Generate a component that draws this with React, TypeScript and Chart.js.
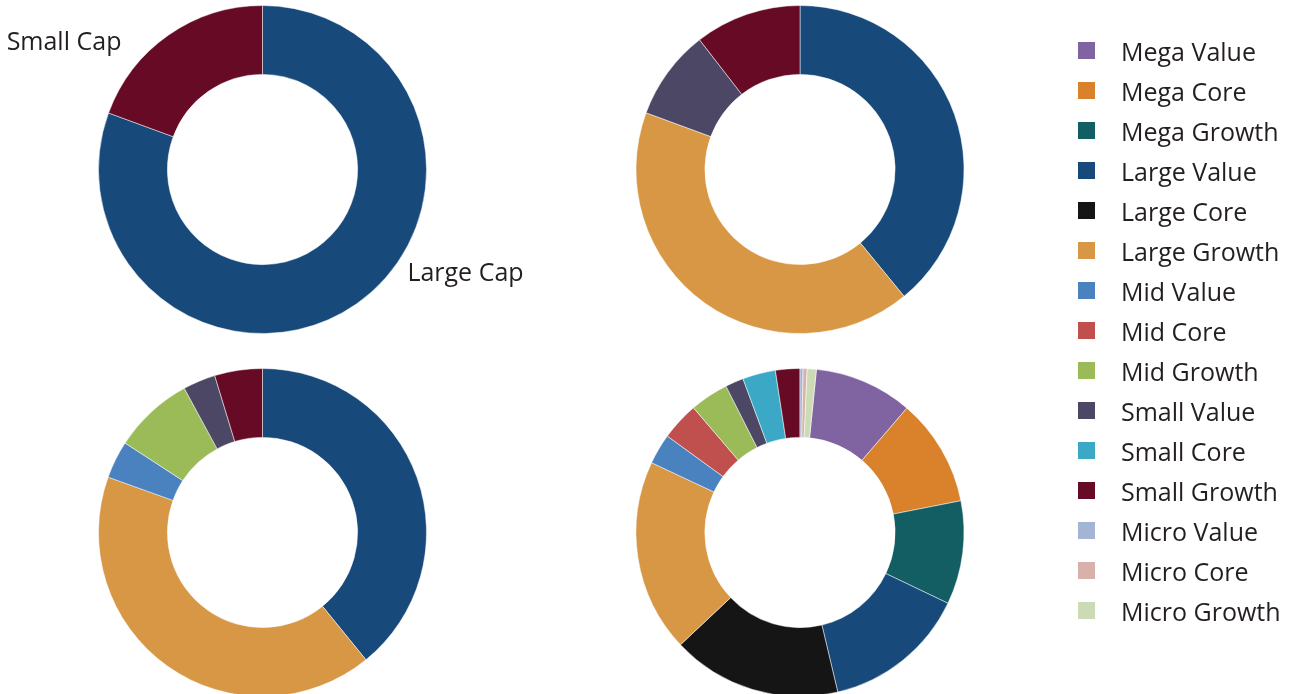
import React, { useEffect, useRef } from "react";
import { Chart, registerables } from "chart.js";

Chart.register(...registerables);

// ---- data ----
const CATEGORIES = [
  "Mega Value",
  "Mega Core",
  "Mega Growth",
  "Large Value",
  "Large Core",
  "Large Growth",
  "Mid Value",
  "Mid Core",
  "Mid Growth",
  "Small Value",
  "Small Core",
  "Small Growth",
  "Micro Value",
  "Micro Core",
  "Micro Growth",
];

const CATEGORY_COLORS = [
  "#8064a2",
  "#d9822b",
  "#135e62",
  "#17497a",
  "#151515",
  "#d79744",
  "#4a81bf",
  "#c0504d",
  "#9bbb59",
  "#4b4764",
  "#3ba9c6",
  "#670a26",
  "#a3b4d4",
  "#d8b2aa",
  "#ccdbb5",
];

const CAP_LABELS = ["Large Cap", "Small Cap"];
const CAP_VALUES = [80.6, 19.4];
const CAP_COLORS = ["#17497a", "#670a26"];

const PORTFOLIO_A = [0, 0, 0, 39.1, 0, 41.6, 0, 0, 0, 8.9, 0, 10.5, 0, 0, 0];
const PORTFOLIO_B = [0, 0, 0, 39.1, 0, 41.3, 3.7, 0, 7.9, 3.2, 0, 4.7, 0, 0, 0];
const PORTFOLIO_C = [9.7, 10.6, 10.2, 14.2, 16.7, 19.0, 3.0, 3.75, 3.8, 1.8, 3.25, 2.4, 0.3, 0.4, 0.9];

const MICRO_NAMES = ["Micro Value", "Micro Core", "Micro Growth"];

// ---- styling ----
const FONT_FAMILY = "'Open Sans', 'Noto Sans', sans-serif";
const TEXT_COLOR = "#231f20";
const OUTER_RADIUS = 164;
const CUTOUT = "58%";

const capLabelPlugin = {
  id: "capLabels",
  afterDatasetsDraw(chart: any, _args: any, opts: any) {
    if (!opts || !opts.offsets) return;
    const meta = chart.getDatasetMeta(0);
    const ctx = chart.ctx;
    ctx.save();
    ctx.font = opts.font;
    ctx.fillStyle = opts.color;
    ctx.textBaseline = "alphabetic";
    meta.data.forEach((arc: any, i: number) => {
      const p = arc.getProps(["x", "y", "startAngle", "endAngle", "outerRadius"], true);
      const mid = (p.startAngle + p.endAngle) / 2;
      const ax = p.x + Math.cos(mid) * p.outerRadius;
      const ay = p.y + Math.sin(mid) * p.outerRadius;
      const o = opts.offsets[i];
      ctx.textAlign = o.align;
      ctx.fillText(chart.data.labels[i], ax + o.dx, ay + o.dy);
    });
    ctx.restore();
  },
};

const legendPlugin = {
  id: "sideLegend",
  afterDraw(chart: any, _args: any, opts: any) {
    if (!opts || !opts.items) return;
    const ctx = chart.ctx;
    ctx.save();
    ctx.font = opts.font;
    ctx.textBaseline = "alphabetic";
    ctx.textAlign = "left";
    opts.items.forEach((label: string, i: number) => {
      const y = opts.top + i * opts.rowGap;
      ctx.fillStyle = opts.colors[i];
      ctx.fillRect(opts.boxX, y, opts.boxSize, opts.boxSize);
      ctx.fillStyle = opts.color;
      ctx.fillText(label, opts.textX, y + opts.baselineOffset);
    });
    ctx.restore();
  },
};

function donutConfig(labels: string[], values: number[], colors: string[], rotation: number, extraPlugins: any = {}) {
  return {
    type: "doughnut" as const,
    data: {
      labels,
      datasets: [
        {
          data: values,
          backgroundColor: colors,
          borderColor: "#ffffff",
          borderWidth: 0.5,
        },
      ],
    },
    options: {
      responsive: false,
      animation: false as const,
      events: [],
      radius: OUTER_RADIUS,
      cutout: CUTOUT,
      rotation,
      layout: { padding: 0 },
      plugins: {
        legend: { display: false },
        tooltip: { enabled: false },
        ...extraPlugins,
      },
    },
  };
}

export default function App() {
  const r1 = useRef<HTMLCanvasElement>(null);
  const r2 = useRef<HTMLCanvasElement>(null);
  const r3 = useRef<HTMLCanvasElement>(null);
  const r4 = useRef<HTMLCanvasElement>(null);
  const rl = useRef<HTMLCanvasElement>(null);

  useEffect(() => {
    const total = PORTFOLIO_C.reduce((a, b) => a + b, 0);
    const microSum = CATEGORIES.reduce(
      (s, c, i) => (MICRO_NAMES.includes(c) ? s + PORTFOLIO_C[i] : s),
      0
    );
    const charts: Chart[] = [];

    const cfg1: any = donutConfig(CAP_LABELS, CAP_VALUES, CAP_COLORS, 0, {
      capLabels: {
        font: `25px ${FONT_FAMILY}`,
        color: TEXT_COLOR,
        offsets: [
          { align: "left", dx: 51, dy: -23 },
          { align: "right", dx: -47.2, dy: 14.5 },
        ],
      },
    });
    cfg1.plugins = [capLabelPlugin];
    charts.push(new Chart(r1.current as HTMLCanvasElement, cfg1));

    charts.push(new Chart(r2.current as HTMLCanvasElement, donutConfig(CATEGORIES, PORTFOLIO_A, CATEGORY_COLORS, 0) as any));
    charts.push(new Chart(r3.current as HTMLCanvasElement, donutConfig(CATEGORIES, PORTFOLIO_B, CATEGORY_COLORS, 0) as any));
    charts.push(
      new Chart(
        r4.current as HTMLCanvasElement,
        donutConfig(CATEGORIES, PORTFOLIO_C, CATEGORY_COLORS, (microSum / total) * 360) as any
      )
    );

    const legendCfg: any = {
      type: "doughnut",
      data: { labels: CATEGORIES, datasets: [] },
      options: {
        responsive: false,
        animation: false,
        events: [],
        plugins: {
          legend: { display: false },
          tooltip: { enabled: false },
          sideLegend: {
            items: CATEGORIES,
            colors: CATEGORY_COLORS,
            font: `25px ${FONT_FAMILY}`,
            color: TEXT_COLOR,
            boxX: 18,
            boxSize: 17,
            textX: 61,
            top: 42,
            rowGap: 40,
            baselineOffset: 18.5,
          },
        },
      },
      plugins: [legendPlugin],
    };
    charts.push(new Chart(rl.current as HTMLCanvasElement, legendCfg));

    return () => charts.forEach((c) => c.destroy());
  }, []);

  const abs = (left: number, top: number): React.CSSProperties => ({ position: "absolute", left, top });

  return (
    <div
      style={{
        position: "fixed",
        left: 0,
        top: 0,
        width: 1289,
        height: 694,
        overflow: "hidden",
        background: "#ffffff",
      }}
    >
      <canvas ref={r1} width={525} height={339} style={abs(0, 0)} />
      <canvas ref={r2} width={340} height={339} style={abs(630, 0)} />
      <canvas ref={r3} width={341} height={341} style={abs(92, 362)} />
      <canvas ref={r4} width={340} height={341} style={abs(630, 362)} />
      <canvas ref={rl} width={229} height={694} style={abs(1060, 0)} />
    </div>
  );
}
